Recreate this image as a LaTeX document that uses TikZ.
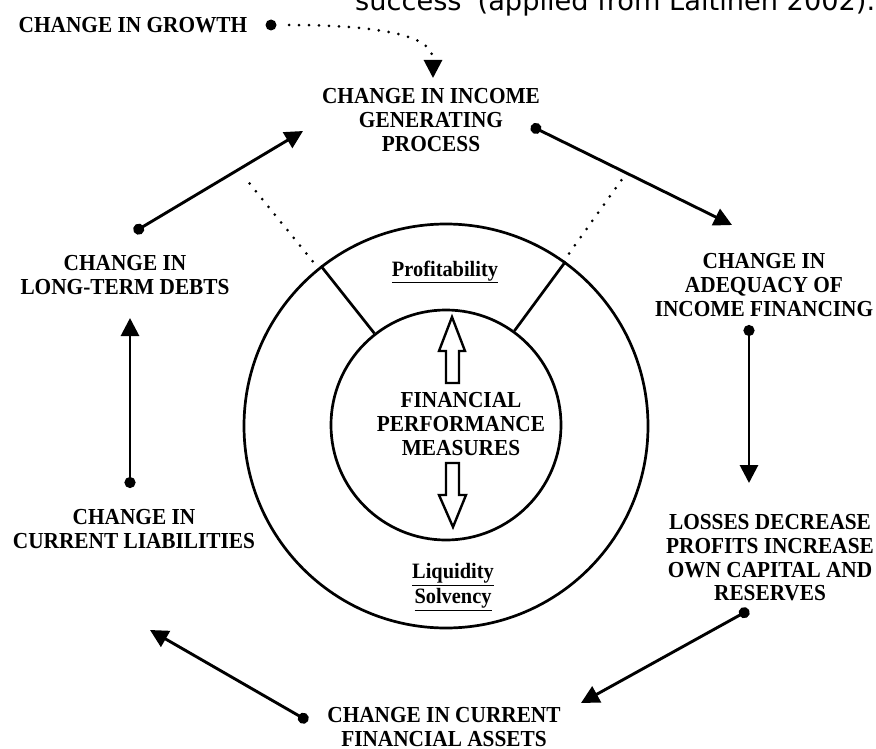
\documentclass[tikz,border=0pt]{standalone}
\usepackage{fontspec}
\setmainfont{Liberation Serif}
\newfontfamily\boxfont[FakeStretch=0.93]{Liberation Serif}
\newfontfamily\capfont{DejaVu Sans}
\usetikzlibrary{arrows.meta}
\tikzset{
	factor/.style={align=center, font=\boxfont\bfseries\fontsize{23}{23.8}\selectfont, inner sep=0pt},
	measure/.style={align=center, font=\boxfont\bfseries\fontsize{22}{25}\selectfont, inner sep=0pt},
	ring/.style={circle, draw, line width=2.7bp, inner sep=0pt},
	spoke/.style={draw, line width=2.7bp},
	dotline/.style={draw, line width=3bp, line cap=round, dash pattern=on 0bp off 10bp},
	arrow/.style={draw, {Circle[length=11bp]}-{Triangle[length=18bp,width=18bp]}, line width=2.9bp},
	fatarrow/.style={draw, line width=2.4bp, fill=white, line join=miter}
}

\begin{document}
\begin{tikzpicture}[x=1bp, y=-1bp]
\useasboundingbox (0,0) rectangle (876,749);
\clip (0,0) rectangle (876,749);

\node[anchor=base west, font=\capfont\fontsize{27.3}{30}\selectfont, inner sep=0pt] (caption) at (355,11)
	{success' (applied from Laitinen 2002).};

\node[ring, minimum size=404bp] (outer) at (446,426) {};
\node[ring, minimum size=230bp] (inner) at (446,425) {};

\node[factor] (growth) at (133,25) {CHANGE IN GROWTH};
\node[factor] (income) at (431,120) {CHANGE IN INCOME\\GENERATING\\PROCESS};
\node[factor] (adequacy) at (764,285) {CHANGE IN\\ADEQUACY OF\\INCOME FINANCING};
\node[factor] (losses) at (770,558) {LOSSES DECREASE\\PROFITS INCREASE\\OWN CAPITAL AND\\RESERVES};
\node[factor] (assets) at (444,727) {CHANGE IN CURRENT\\FINANCIAL ASSETS};
\node[factor] (liabilities) at (134,529) {CHANGE IN\\CURRENT LIABILITIES};
\node[factor] (longterm) at (125,275) {CHANGE IN\\LONG-TERM DEBTS};

\node[factor] (measures) at (461,424) {FINANCIAL\\PERFORMANCE\\MEASURES};
\node[measure] (profit) at (445,272) {\underline{Profitability}};
\node[measure] (liquid) at (453,587) {\underline{Liquidity}\\\underline{Solvency}};

% arrow ends
\coordinate (growthdot) at (271,25);
\coordinate (growthtip) at (433,78);
\coordinate (longtermdot) at (134,232);
\coordinate (incometip) at (303,131);
\coordinate (incomedot) at (531,126);
\coordinate (adequacytip) at (732,225);
\coordinate (adequacydot) at (749,325);
\coordinate (lossestip) at (749,483);
\coordinate (lossesdot) at (749,610);
\coordinate (assetstip) at (581,703);
\coordinate (assetsdot) at (308,721);
\coordinate (liabilitiestip) at (150,630);
\coordinate (liabilitiesdot) at (130,488);
\coordinate (longtermtip) at (130,318);

\draw [arrow] (longtermdot) -- (incometip);
\draw [arrow] (incomedot) -- (adequacytip);
\draw [arrow] (adequacydot) -- (lossestip);
\draw [arrow] (lossesdot) -- (assetstip);
\draw [arrow] (assetsdot) -- (liabilitiestip);
\draw [arrow] (liabilitiesdot) -- (longtermtip);

\fill (growthdot) circle (5.5bp);
\draw [dotline] (growthdot) ++(18,0) .. controls (380,25) and (428,36) .. (432,55);
\draw [line width=2.9bp, -{Triangle[length=18bp,width=18bp]}] (433,62) -- (growthtip);

\draw [spoke] (outer.128) -- (inner.128);
\draw [spoke] (outer.54.5) -- (inner.54.5);
\draw [dotline] ([shift={(129:212bp)}]outer.center) -- ([shift={(129:318bp)}]outer.center);
\draw [dotline] ([shift={(54.5:212bp)}]outer.center) -- ([shift={(54.5:308bp)}]outer.center);

\draw [fatarrow] (446,383) -- (446,351) -- (439,351) -- (452,317) -- (465,351) -- (459,351) -- (459,383) -- cycle;
\draw [fatarrow] (446,463) -- (446,495) -- (439,495) -- (453,527) -- (466,495) -- (459,495) -- (459,463) -- cycle;

\end{tikzpicture}
\end{document}
